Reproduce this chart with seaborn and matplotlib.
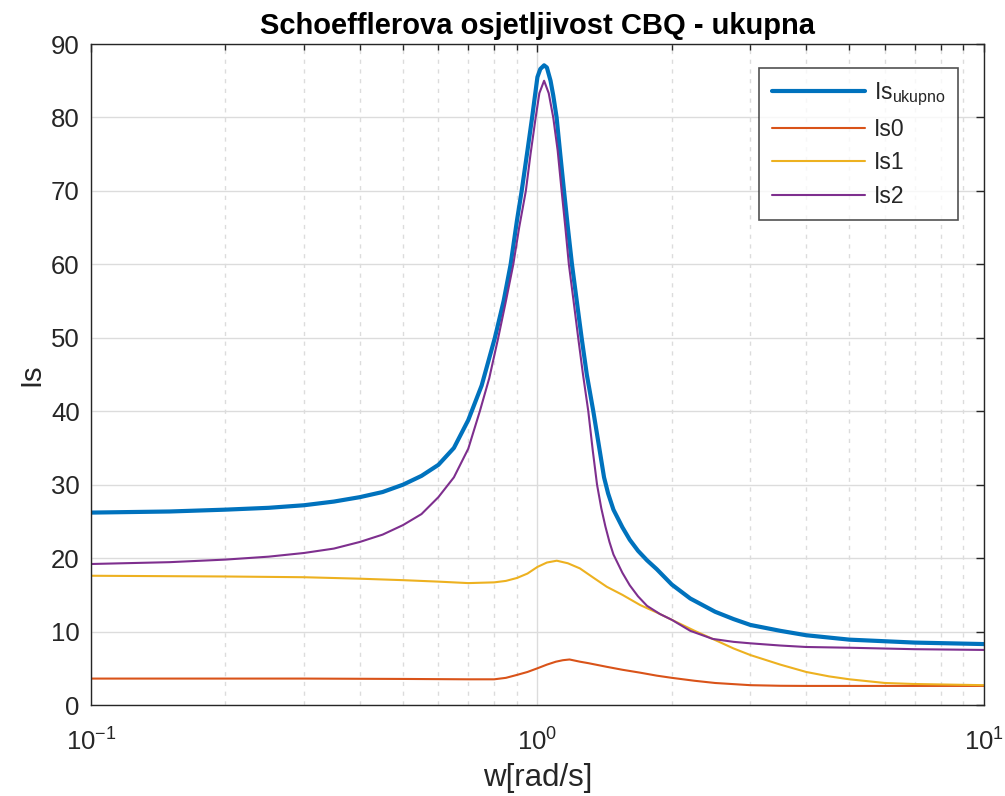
import numpy as np
import pandas as pd
import seaborn as sns
import matplotlib.pyplot as plt

# values (w in rad/s, Is)
w_uk = [0.1, 0.15, 0.2, 0.25, 0.3, 0.35, 0.4, 0.45, 0.5, 0.55, 0.6, 0.65, 0.7, 0.75, 0.803,
        0.84, 0.871, 0.9, 0.922, 0.95, 0.973, 1.0, 1.015, 1.035, 1.05, 1.07, 1.085, 1.104,
        1.125, 1.147, 1.17, 1.195, 1.225, 1.256, 1.29, 1.334, 1.38, 1.41, 1.44, 1.48, 1.55,
        1.61, 1.68, 1.76, 1.85, 2.0, 2.2, 2.5, 2.75, 3.0, 3.5, 4.0, 5.0, 7.0, 10.0]
is_uk = [26.2, 26.35, 26.6, 26.85, 27.2, 27.7, 28.3, 29.0, 30.0, 31.2, 32.7, 35.0, 38.8, 43.5, 50.0,
         55.0, 60.0, 66.0, 70.0, 75.5, 80.0, 85.5, 86.6, 87.1, 86.8, 85.0, 83.0, 80.0,
         75.0, 70.0, 65.0, 60.0, 55.0, 50.0, 45.0, 40.0, 34.5, 31.0, 28.8, 26.6, 24.2,
         22.5, 21.0, 19.7, 18.5, 16.4, 14.5, 12.7, 11.7, 10.9, 10.1, 9.5, 8.9, 8.5, 8.3]

w_0 = [0.1, 0.3, 0.5, 0.7, 0.8, 0.85, 0.9, 0.95, 1.0, 1.05, 1.1, 1.14, 1.18, 1.245, 1.3,
       1.43, 1.55, 1.7, 1.85, 2.0, 2.25, 2.5, 3.0, 3.5, 4.0, 10.0]
is_0 = [3.6, 3.6, 3.55, 3.5, 3.5, 3.7, 4.1, 4.5, 5.0, 5.5, 5.9, 6.1, 6.2, 5.9, 5.7,
        5.2, 4.8, 4.4, 4.0, 3.7, 3.3, 3.0, 2.7, 2.62, 2.6, 2.6]

w_1 = [0.1, 0.2, 0.3, 0.4, 0.5, 0.6, 0.7, 0.8, 0.85, 0.9, 0.95, 1.0, 1.05, 1.105, 1.17,
       1.245, 1.33, 1.43, 1.55, 1.7, 1.85, 2.0, 2.25, 2.5, 2.75, 3.0, 3.5, 4.0, 4.5, 5.0,
       6.0, 7.0, 10.0]
is_1 = [17.6, 17.5, 17.4, 17.2, 17.0, 16.8, 16.6, 16.7, 16.9, 17.3, 17.9, 18.8, 19.4, 19.65, 19.3,
        18.6, 17.4, 16.1, 15.0, 13.6, 12.6, 11.6, 10.1, 8.85, 7.7, 6.8, 5.5, 4.5, 3.9, 3.5,
        3.0, 2.86, 2.7]

w_2 = [0.1, 0.15, 0.2, 0.25, 0.3, 0.35, 0.4, 0.45, 0.5, 0.55, 0.6, 0.65, 0.7, 0.743, 0.78,
       0.817, 0.85, 0.883, 0.91, 0.942, 0.965, 0.991, 1.01, 1.035, 1.06, 1.085, 1.11, 1.133,
       1.155, 1.176, 1.205, 1.234, 1.265, 1.3, 1.33, 1.36, 1.39, 1.42, 1.45, 1.48, 1.55, 1.61,
       1.68, 1.76, 1.88, 2.0, 2.2, 2.47, 2.75, 3.0, 3.5, 4.0, 5.0, 7.0, 10.0]
is_2 = [19.2, 19.45, 19.8, 20.2, 20.7, 21.3, 22.2, 23.2, 24.5, 26.0, 28.3, 31.0, 34.9, 40.0, 44.5,
        50.0, 55.0, 60.0, 65.0, 70.0, 75.0, 80.0, 83.3, 85.0, 83.3, 80.0, 75.5, 70.0,
        65.0, 60.0, 55.0, 50.0, 45.0, 40.0, 34.7, 30.0, 26.8, 24.3, 22.2, 20.5, 18.0, 16.3,
        14.8, 13.5, 12.4, 11.6, 10.1, 9.0, 8.6, 8.4, 8.1, 7.9, 7.8, 7.6, 7.5]

series = [
    ('Is$_{ukupno}$', w_uk, is_uk, '#0072BD', 3.0),
    ('Is0', w_0, is_0, '#D95319', 1.5),
    ('Is1', w_1, is_1, '#EDB120', 1.5),
    ('Is2', w_2, is_2, '#7E2F8E', 1.5),
]

sns.set_style("white")
plt.rcParams['font.family'] = ['Liberation Sans', 'DejaVu Sans']
plt.rcParams['mathtext.default'] = 'regular'

fig = plt.figure(figsize=(10.05, 7.96), dpi=100)
ax = fig.add_axes([0.0905, 0.1143, 0.8885, 0.8304])

for name, w, vals, col, lw in series:
    df = pd.DataFrame({'w': w, 'Is': vals})
    sns.lineplot(data=df, x='w', y='Is', ax=ax, color=col, linewidth=lw, label=name,
                 sort=False, estimator=None)

ax.set_xscale('log')
ax.set_xlim(0.1, 10)
ax.set_ylim(0, 90)
ax.set_yticks(range(0, 91, 10))

dark = '#262626'
ax.grid(True, which='major', color='#dcdcdc', linestyle='-', linewidth=1.0)
ax.grid(True, which='minor', axis='x', color='#dcdcdc', linestyle=(0, (3, 4)), linewidth=1.0)
ax.set_axisbelow(True)
ax.tick_params(which='both', direction='in', top=True, right=True, colors=dark,
               labelsize=18.5, width=1.0)
ax.tick_params(which='major', length=6)
ax.tick_params(axis='y', which='major', pad=8)
ax.tick_params(axis='x', which='major', pad=17)
ax.tick_params(which='minor', length=4)
for s in ax.spines.values():
    s.set_color(dark)
    s.set_linewidth(1.0)

ax.set_title('Schoefflerova osjetljivost CBQ - ukupna', fontsize=21, fontweight='bold',
             color='black', pad=7)
ax.set_xlabel('w[rad/s]', fontsize=22.5, color=dark, labelpad=5)
ax.set_ylabel('Is', fontsize=21, color=dark, labelpad=4)

leg = ax.legend(loc='upper right', fontsize=16.5, frameon=True, fancybox=False,
                handlelength=4.1, handletextpad=0.35, borderpad=0.55, labelspacing=0.45,
                borderaxespad=0, bbox_to_anchor=(0.971, 0.964))
leg.get_frame().set_edgecolor(dark)
leg.get_frame().set_linewidth(1.2)

fig.savefig('out.png', dpi=100)
